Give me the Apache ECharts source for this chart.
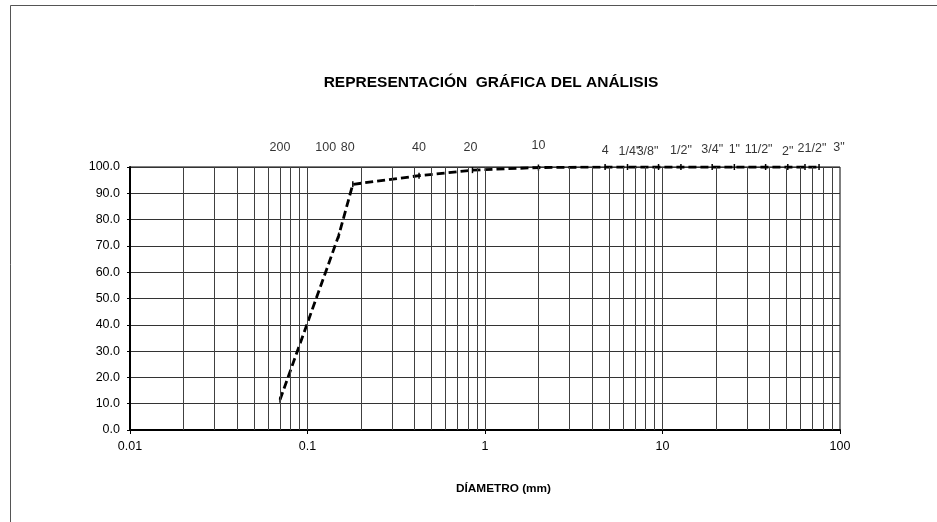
<!DOCTYPE html>
<html>
<head>
<meta charset="utf-8">
<style>
  html, body { margin: 0; padding: 0; background: #fff; }
  #chart { width: 937px; height: 522px; }
</style>
<script src="https://cdn.jsdelivr.net/npm/echarts@6/dist/echarts.min.js"></script>
</head>
<body>
<div id="chart"></div>
<script>
// Sieve series (ASTM) and their nominal openings in mm
const sieveNames = ['200', '100', '80', '40', '20', '10', '4', '1/4"', '3/8"', '1/2"', '3/4"', '1"', '11/2"', '2"', '21/2"', '3"'];
const sieveOpenings = [0.07, 0.15, 0.18, 0.425, 0.85, 2.0, 4.75, 6.35, 9.5, 12.7, 19.05, 25.4, 38.1, 50.8, 63.5, 76.2];
// Cumulative percent passing for each sieve
const percentPassing = [11.5, 74.0, 93.4, 96.7, 98.8, 99.8, 100, 100, 100, 100, 100, 100, 100, 100, 100, 100];
// Axis tick labels
const xTickValues = [0.01, 0.1, 1, 10, 100];
const yTickLabels = ['0.0', '10.0', '20.0', '30.0', '40.0', '50.0', '60.0', '70.0', '80.0', '90.0', '100.0'];

// Nudges [dx, dy] for the sieve captions above the frame (dy measured from the 100% line)
const captionNudge = [
  [0, -19], [-13, -19], [-5, -19], [0, -19], [-2, -19], [0, -21],
  [0, -16], [2, -15], [-11, -15], [0, -16], [0, -17], [0, -17],
  [-7, -17], [0, -15], [7, -18], [20, -19]
];

// Log-cycle grid: 1..9 within each decade
const logGrid = [];
for (let k = -2; k <= 1; k++) {
  for (let m = 1; m <= 9; m++) {
    if (k === -2 && m === 1) continue;
    logGrid.push({ xAxis: +(m * Math.pow(10, k)).toPrecision(6) });
  }
}

const chart = echarts.init(document.getElementById('chart'), null, { renderer: 'canvas' });
const FONT = 'Liberation Sans, Arial, sans-serif';

chart.setOption({
  animation: false,
  backgroundColor: '#ffffff',
  title: {
    text: 'REPRESENTACIÓN  GRÁFICA DEL ANÁLISIS',
    left: 486, top: 70, textAlign: 'center',
    textStyle: { fontFamily: FONT, fontSize: 15.5, fontWeight: 'bold', color: '#000' }
  },
  graphic: [
    {
      type: 'rect', silent: true, z: -1,
      shape: { x: 10.5, y: 5.5, width: 1000, height: 600 },
      style: { fill: 'none', stroke: '#555', lineWidth: 1 }
    },
    {
      type: 'text', left: 456, top: 483, silent: true,
      style: { text: 'DÍAMETRO (mm)', fontFamily: FONT, fontSize: 11.8, fontWeight: 'bold', fill: '#000' }
    }
  ],
  grid: {
    left: 130, right: 97, top: 167, bottom: 92,
    show: true, borderColor: '#000', borderWidth: 1, backgroundColor: 'transparent'
  },
  xAxis: {
    type: 'log', logBase: 10, min: 0.01, max: 100, splitNumber: 4,
    axisLine: { show: true, onZero: false, lineStyle: { color: '#000', width: 2 } },
    axisTick: { show: true, length: 4, lineStyle: { color: '#000' } },
    splitLine: { show: false },
    axisLabel: {
      margin: 10, color: '#000', fontFamily: FONT, fontSize: 12.5,
      formatter: v => {
        const r = +(+v).toPrecision(6);
        return xTickValues.indexOf(r) >= 0 ? String(r) : '';
      }
    }
  },
  yAxis: {
    type: 'value', min: 0, max: 100, interval: 10,
    axisLine: { show: true, lineStyle: { color: '#000', width: 2 } },
    axisTick: { show: true, length: 3, lineStyle: { color: '#000' } },
    splitLine: { show: true, lineStyle: { color: '#333', width: 1 } },
    axisLabel: {
      margin: 10, color: '#000', fontFamily: FONT, fontSize: 12.5,
      formatter: v => yTickLabels[Math.round(v / 10)]
    }
  },
  series: [
    {
      // Sieve captions along the top edge, plus the log-cycle grid
      type: 'scatter', z: 1, silent: true,
      symbolSize: 0,
      itemStyle: { color: 'transparent' },
      data: sieveOpenings.map((d, i) => ({
        value: [d, 100],
        label: {
          show: true, position: 'inside', offset: captionNudge[i],
          formatter: sieveNames[i],
          color: '#000', fontFamily: FONT, fontSize: 12.5
        }
      })),
      markLine: {
        silent: true, symbol: ['none', 'none'], animation: false,
        label: { show: false },
        lineStyle: { color: '#404040', width: 1, type: 'solid' },
        data: logGrid
      }
    },
    {
      // Grain-size distribution curve
      type: 'line', z: 3, silent: true,
      data: sieveOpenings.map((d, i) => [d, percentPassing[i]]),
      symbol: 'rect', symbolSize: [1.5, 6], showSymbol: true,
      itemStyle: { color: '#000' },
      lineStyle: { color: '#000', width: 2.8, type: [8, 4] }
    }
  ]
});
</script>
</body>
</html>
